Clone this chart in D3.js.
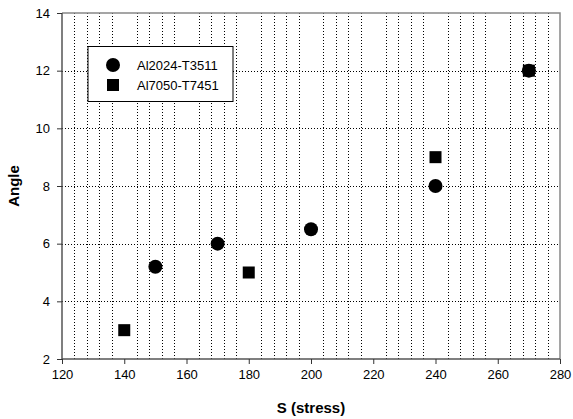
<!DOCTYPE html>
<html>
<head>
<meta charset="utf-8">
<script src="https://cdn.jsdelivr.net/npm/d3@7"></script>
<style>
  body { margin: 0; background: #fff; }
  text { font-family: "Liberation Sans", Arial, sans-serif; }
</style>
</head>
<body>
<svg id="canvas" width="573" height="419"></svg>
<script>
// series data
let seriesNames = ["Al2024-T3511", "Al7050-T7451"];
let stressA = [150, 170, 200, 240, 270];
let angleA = [5.2, 6, 6.5, 8, 12];
let stressB = [140, 180, 240, 270];
let angleB = [3, 5, 9, 12];

let xTicks = [120, 140, 160, 180, 200, 220, 240, 260, 280];
let yTicks = [2, 4, 6, 8, 10, 12, 14];

let canvas = d3.select("#canvas");

let plotLeft = 62, plotRight = 560, plotTop = 13, plotBottom = 359;

let xScale = d3.scaleLinear().domain([120, 280]).range([plotLeft, plotRight]);
let yScale = d3.scaleLinear().domain([2, 14]).range([plotBottom, plotTop]);

// minor vertical grid every 4, skipping the majors
let minorX = d3.range(124, 280, 4).filter((v) => v % 20 !== 0);

canvas.append("g")
  .selectAll("line")
  .data(minorX)
  .enter()
  .append("line")
  .attr("x1", (d) => Math.round(xScale(d)) + 0.5)
  .attr("x2", (d) => Math.round(xScale(d)) + 0.5)
  .attr("y1", plotTop)
  .attr("y2", plotBottom)
  .attr("stroke", "#000")
  .attr("stroke-width", 1)
  .attr("stroke-dasharray", "1,2");

canvas.append("g")
  .selectAll("line")
  .data(yTicks.filter((v) => v > 2 && v < 14))
  .enter()
  .append("line")
  .attr("x1", plotLeft)
  .attr("x2", plotRight)
  .attr("y1", (d) => Math.round(yScale(d)) + 0.5)
  .attr("y2", (d) => Math.round(yScale(d)) + 0.5)
  .attr("stroke", "#000")
  .attr("stroke-width", 1)
  .attr("stroke-dasharray", "1,2");

// frame top/right
canvas.append("path")
  .attr("d", `M${plotLeft},${plotTop}H${plotRight}V${plotBottom}`)
  .attr("fill", "none")
  .attr("stroke", "#888")
  .attr("stroke-width", 1.5);

// axes
let xAxis = d3.axisBottom(xScale).tickValues(xTicks).tickSize(5).tickPadding(6);
let yAxis = d3.axisLeft(yScale).tickValues(yTicks).tickSize(5).tickPadding(7);

let gx = canvas.append("g")
  .attr("transform", `translate(0,${plotBottom})`)
  .call(xAxis);
let gy = canvas.append("g")
  .attr("transform", `translate(${plotLeft},0)`)
  .call(yAxis);

[gx, gy].forEach((g) => {
  g.select(".domain").attr("stroke", "#555").attr("stroke-width", 1.5);
  g.selectAll(".tick line").attr("stroke", "#333");
  g.selectAll(".tick text")
    .attr("fill", "#000")
    .style("font-family", "'Liberation Sans', Arial, sans-serif")
    .style("font-size", "13px");
});
gx.select(".domain").attr("d", `M${plotLeft},0H${plotRight}`);
gy.select(".domain").attr("d", `M0,${plotTop}V${plotBottom}`);

// markers
canvas.append("g")
  .selectAll("rect")
  .data(stressB.map((s, i) => [s, angleB[i]]))
  .enter()
  .append("rect")
  .attr("x", (d) => xScale(d[0]) - 6)
  .attr("y", (d) => yScale(d[1]) - 6)
  .attr("width", 12)
  .attr("height", 12)
  .attr("fill", "#000");

canvas.append("g")
  .selectAll("circle")
  .data(stressA.map((s, i) => [s, angleA[i]]))
  .enter()
  .append("circle")
  .attr("cx", (d) => xScale(d[0]))
  .attr("cy", (d) => yScale(d[1]))
  .attr("r", 7)
  .attr("fill", "#000");

// legend
let legend = canvas.append("g");
legend.append("rect")
  .attr("x", 88)
  .attr("y", 46.5)
  .attr("width", 145)
  .attr("height", 55)
  .attr("fill", "#fff")
  .attr("stroke", "#000")
  .attr("stroke-width", 1);
legend.append("circle")
  .attr("cx", 113)
  .attr("cy", 65)
  .attr("r", 7)
  .attr("fill", "#000");
legend.append("rect")
  .attr("x", 107)
  .attr("y", 79)
  .attr("width", 12)
  .attr("height", 12)
  .attr("fill", "#000");
legend.selectAll("text")
  .data(seriesNames)
  .enter()
  .append("text")
  .attr("x", 137)
  .attr("y", (d, i) => 70 + i * 20)
  .attr("font-size", "13px")
  .text((d) => d);

// axis titles
canvas.append("text")
  .attr("x", (plotLeft + plotRight) / 2)
  .attr("y", 413)
  .attr("text-anchor", "middle")
  .attr("font-size", "15px")
  .attr("font-weight", "bold")
  .text("S (stress)");

canvas.append("text")
  .attr("transform", `translate(19,${(plotTop + plotBottom) / 2}) rotate(-90)`)
  .attr("text-anchor", "middle")
  .attr("font-size", "15px")
  .attr("font-weight", "bold")
  .text("Angle");
</script>
</body>
</html>
